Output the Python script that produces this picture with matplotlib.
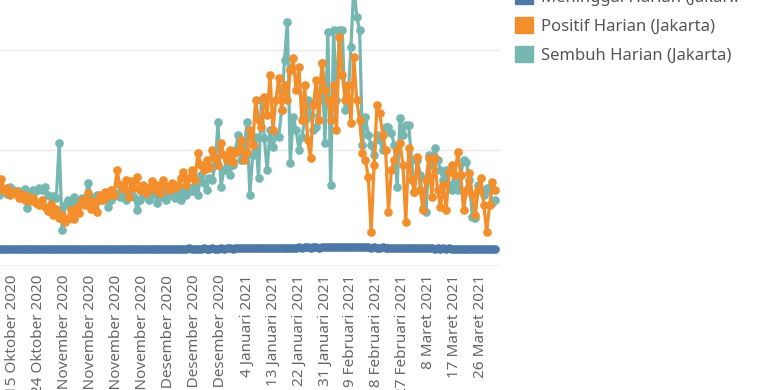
import matplotlib
matplotlib.use("Agg")
import matplotlib.pyplot as plt
from matplotlib.patches import Patch
import pandas as pd

# daily values, 9 Oktober 2020 - 31 Maret 2021
positif_okt = [1250, 1300, 1420, 1180, 1240, 1100, 1150, 1180, 1050, 1120, 1000, 1080, 980, 1040, 950, 900, 1010, 860, 780, 920, 700, 820, 640]
positif_nov = [700, 560, 620, 800, 620, 860, 740, 1000, 900, 1140, 820, 980, 760, 1100, 1000, 1160, 1080, 1200, 1100, 1600, 1300, 1220, 1400, 1060, 1380, 1250, 1460, 1200, 1300, 1150]
positif_des = [1250, 1380, 1200, 1300, 1150, 1400, 1280, 1200, 1350, 1250, 1300, 1450, 1560, 1300, 1450, 1600, 1400, 1940, 1700, 1600, 1800, 1650, 2000, 1850, 1700, 2140, 1900, 1800, 2000, 1760, 1950]
positif_jan = [2000, 2200, 1800, 1960, 2400, 2100, 3000, 2600, 2460, 3060, 2700, 3500, 2400, 3000, 3440, 2800, 3300, 3000, 3600, 3840, 3200, 3660, 2600, 3300, 2200, 1840, 2900, 3400, 2600, 3740, 3200]
positif_feb = [3000, 2600, 3300, 2400, 4260, 3500, 3000, 3300, 2540, 3860, 3000, 2600, 1940, 1800, 1460, 360, 1700, 2900, 2740, 2300, 2000, 760, 1600, 1800, 2000, 2140, 1700, 560]
positif_mar = [2040, 1400, 1160, 1860, 1200, 800, 1400, 1840, 1060, 1840, 1200, 860, 1300, 800, 1560, 1700, 1500, 1960, 1500, 800, 1200, 1540, 1100, 700, 1200, 1440, 900, 360, 900, 1360, 1200]

sembuh_okt = [1150, 1100, 1200, 1180, 1120, 1260, 1200, 1150, 1180, 1100, 1220, 840, 1150, 1200, 1180, 1250, 1200, 1260, 1100, 1060, 1080, 1050, 2140]
sembuh_nov = [400, 900, 1000, 940, 1060, 900, 980, 1050, 1000, 1340, 1060, 1000, 1100, 1000, 1050, 1120, 860, 1000, 1080, 1150, 1060, 1180, 1000, 1100, 1200, 1060, 800, 1000, 1100, 1150]
sembuh_des = [1000, 1100, 1200, 940, 1060, 1150, 1000, 1100, 1260, 1050, 1150, 1000, 1200, 1100, 1250, 1180, 1300, 1100, 1500, 1350, 1200, 1450, 1400, 1700, 2560, 1260, 1600, 1800, 1500, 1700, 2000]
sembuh_jan = [2300, 1800, 2000, 2560, 1100, 1900, 2260, 1440, 3000, 2240, 1600, 2400, 2060, 2300, 2260, 2800, 3800, 4560, 1740, 2660, 2400, 2000, 2260, 2600, 3000, 2700, 2400, 2460, 3000, 3740, 2140]
sembuh_feb = [4360, 1300, 4400, 3000, 4400, 4400, 2800, 3000, 4060, 5300, 4660, 4400, 2100, 2660, 2300, 2100, 1900, 2300, 2200, 2000, 2460, 2460, 2340, 2100, 1260, 2640, 2300, 2500]
sembuh_mar = [2500, 1800, 1160, 1800, 1500, 840, 760, 1900, 1700, 2040, 1800, 1600, 1400, 1600, 1300, 1200, 1400, 1200, 1500, 1800, 1760, 1400, 660, 640, 1300, 1200, 1100, 1240, 1200, 940, 1000]

meninggal_okt = [18, 22, 20, 25, 19, 23, 21, 17, 24, 20, 22, 26, 19, 21, 23, 18, 20, 24, 22, 19, 21, 25, 20]
meninggal_nov = [22, 18, 20, 24, 21, 19, 17, 23, 20, 22, 18, 21, 25, 19, 20, 23, 21, 18, 22, 24, 20, 19, 23, 21, 26, 22, 20, 24, 21, 23]
meninggal_des = [24, 26, 22, 28, 25, 23, 27, 29, 24, 26, 30, 28, 25, 27, 31, 29, 26, 28, 30, 32, 27, 29, 31, 28, 30, 33, 29, 31, 34, 30, 32]
meninggal_jan = [35, 33, 38, 36, 40, 37, 42, 39, 41, 44, 38, 43, 46, 40, 45, 48, 42, 47, 50, 44, 49, 52, 46, 51, 55, 48, 53, 57, 50, 55, 58]
meninggal_feb = [60, 54, 62, 57, 65, 58, 61, 66, 59, 63, 56, 60, 54, 58, 52, 49, 55, 50, 47, 52, 45, 48, 43, 46, 41, 44, 39, 42]
meninggal_mar = [40, 36, 38, 34, 37, 33, 35, 31, 34, 30, 33, 29, 32, 28, 31, 27, 30, 26, 29, 25, 28, 24, 27, 23, 26, 22, 25, 21, 24, 20, 23]

tick_dates = ["2020-10-15", "2020-10-24", "2020-11-02", "2020-11-11", "2020-11-20", "2020-11-29",
              "2020-12-08", "2020-12-17", "2020-12-26", "2021-01-04", "2021-01-13", "2021-01-22",
              "2021-01-31", "2021-02-09", "2021-02-18", "2021-02-27", "2021-03-08", "2021-03-17", "2021-03-26"]
tick_labels = ["15 Oktober 2020", "24 Oktober 2020", "2 November 2020", "11 November 2020",
               "20 November 2020", "29 November 2020", "8 Desember 2020", "17 Desember 2020",
               "26 Desember 2020", "4 Januari 2021", "13 Januari 2021", "22 Januari 2021",
               "31 Januari 2021", "9 Februari 2021", "18 Februari 2021", "27 Februari 2021",
               "8 Maret 2021", "17 Maret 2021", "26 Maret 2021"]

legend_labels = ["Meninggal Harian (Jakar..", "Positif Harian (Jakarta)", "Sembuh Harian (Jakarta)"]

positif = positif_okt + positif_nov + positif_des + positif_jan + positif_feb + positif_mar
sembuh = sembuh_okt + sembuh_nov + sembuh_des + sembuh_jan + sembuh_feb + sembuh_mar
meninggal = meninggal_okt + meninggal_nov + meninggal_des + meninggal_jan + meninggal_feb + meninggal_mar
dates = pd.date_range("2020-10-09", "2021-03-31", freq="D")

c_blue = "#4e79a7"
c_orange = "#f28e2b"
c_teal = "#76b7b2"

plt.rcParams["font.family"] = ["Noto Sans", "DejaVu Sans"]

fig = plt.figure(figsize=(7.8, 3.9), dpi=100)
ax = fig.add_axes([0, 0.3205, 0.641, 0.7564])

ax.plot(dates, sembuh, color=c_teal, lw=2.3, marker="o", ms=5.2, zorder=3)
ax.plot(dates, positif, color=c_orange, lw=2.3, marker="o", ms=5.2, zorder=4)
ax.plot(dates, meninggal, color=c_blue, lw=4, marker="o", ms=5.2, zorder=5)

ax.set_ylim(-300, 5600)
ax.set_xlim(pd.Timestamp("2020-10-15") - pd.Timedelta(days=4.5), pd.Timestamp("2021-03-26") + pd.Timedelta(days=6.6))
ax.set_yticks([0, 2000, 4000])
ax.yaxis.grid(True, color="#e9e9e9", lw=1)
ax.set_axisbelow(True)
ax.tick_params(axis="y", left=False, labelleft=False)
ax.set_xticks(pd.to_datetime(tick_dates))
ax.set_xticklabels(tick_labels, rotation=90, ha="center", va="top", color="#666666", fontsize=11)
ax.tick_params(axis="x", length=0, pad=7)
for s in ["top", "left", "right"]:
    ax.spines[s].set_visible(False)
ax.spines["bottom"].set_color("#f0f0f0")

handles = [Patch(color=c) for c in [c_blue, c_orange, c_teal]]
fig.legend(handles, legend_labels, loc="upper left", bbox_to_anchor=(515 / 780, 1.030),
           frameon=False, borderpad=0, borderaxespad=0, handlelength=1.08, handleheight=1.08,
           handletextpad=0.48, labelspacing=0.68, fontsize=12, labelcolor="#555555")

fig.savefig("out.png", dpi=100)
